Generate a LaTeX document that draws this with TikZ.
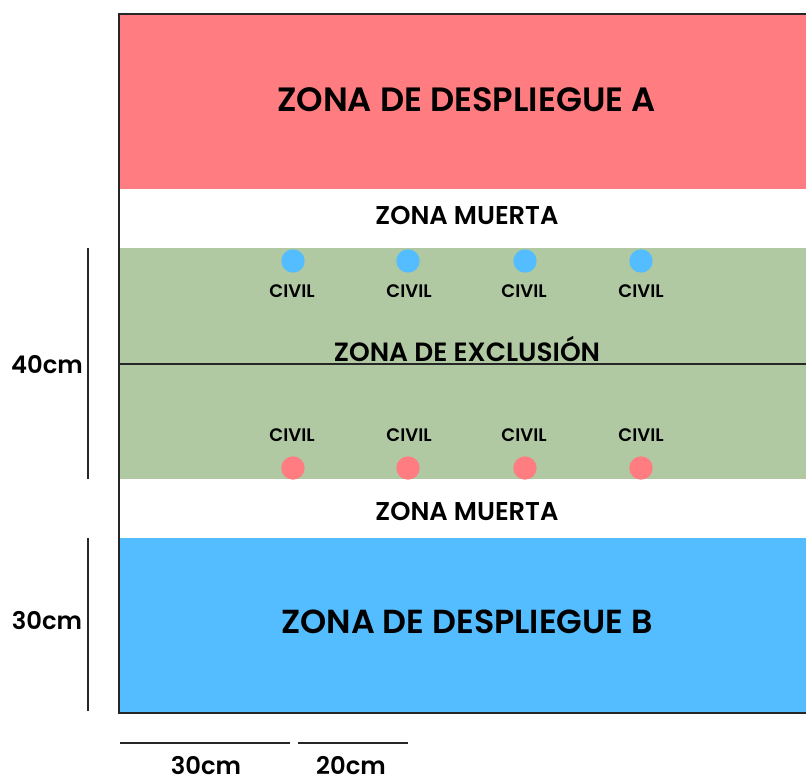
\documentclass[tikz,border=0pt]{standalone}
\usepackage{fontspec}
\setmainfont{Poppins}[UprightFont=* SemiBold,BoldFont=* SemiBold]
\definecolor{zred}{HTML}{FF7C80}
\definecolor{zblue}{HTML}{53BDFF}
\definecolor{zgreen}{HTML}{B0C9A3}
\definecolor{zink}{HTML}{262626}
\tikzset{
  zona/.style={inner sep=0pt,text=black,font=\fontsize{25.3}{27}\selectfont},
  muerta/.style={inner sep=0pt,text=black,font=\fontsize{19.3}{21}\selectfont},
  civil/.style={inner sep=0pt,text=black,font=\fontsize{13.6}{15}\selectfont},
  medida/.style={inner sep=0pt,text=black,font=\fontsize{18.2}{20}\selectfont},
  punto/.style={circle,inner sep=0pt,minimum size=17.5pt},
  borde/.style={draw=zink,line width=1.5pt},
  cota/.style={draw=zink,line width=1.5pt}
}
\begin{document}
\begin{tikzpicture}[x=0.75pt,y=-0.75pt]
\useasboundingbox (0,0) rectangle (806,778);
\fill[white] (0,0) rectangle (806,778);
\fill[zred] (119,14) rectangle (806,189);
\fill[zgreen] (119,248) rectangle (806,479);
\fill[zblue] (119,538) rectangle (806,713);
\node[zona] (za) at (466.5,100) {ZONA DE DESPLIEGUE A};
\node[zona,font=\fontsize{25}{27}\selectfont] (zb) at (467,622) {ZONA DE DESPLIEGUE B};
\node[muerta] (m1) at (467,215) {ZONA MUERTA};
\node[muerta] (m2) at (467,511) {ZONA MUERTA};
\draw[borde] (806,14) -- (119,14) -- (119,713) -- (806,713);
\draw[borde] (119,363.5) -- (806,363.5);
\node[muerta,anchor=base,font=\fontsize{19.8}{21}\selectfont] (ze) at (467,361.5) {ZONA DE EXCLUSIÓN};
\foreach \i/\x/\t in {1/293/292,2/408/409,3/525/524,4/641/641}{
  \node[punto,fill=zblue] (a\i) at (\x,261) {};
  \node[punto,fill=zred] (b\i) at (\x,468) {};
  \node[civil] (ca\i) at (\t,291) {CIVIL};
  \node[civil] (cb\i) at (\t,435.5) {CIVIL};
}
\draw[cota] (87.5,248) -- (87.5,479);
\draw[cota] (87.5,538) -- (87.5,711);
\draw[cota] (120,743) -- (290,743);
\draw[cota] (298,743) -- (408,743);
\node[medida] (d40) at (47,364.5) {40cm};
\node[medida] (d30) at (47,620.5) {30cm};
\node[medida] (h30) at (206,765.5) {30cm};
\node[medida] (h20) at (351,765.5) {20cm};
\end{tikzpicture}
\end{document}
